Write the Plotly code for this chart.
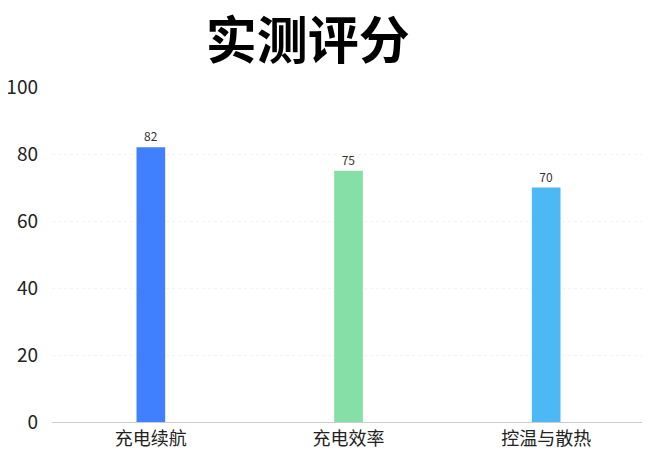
import plotly.graph_objects as go

categories = ["充电续航", "充电效率", "控温与散热"]
scores = [82, 75, 70]
bar_colors = ["#4080ff", "#86dfa6", "#4cb8f5"]

fig = go.Figure()

fig.add_trace(go.Bar(
    x=categories,
    y=scores,
    width=0.145,
    marker=dict(color=bar_colors, line=dict(width=0)),
    text=[str(s) for s in scores],
    textposition="outside",
    textfont=dict(size=12, color="#333333"),
    cliponaxis=False,
))

fig.update_layout(
    width=650, height=456,
    title=dict(text="<b>实测评分</b>", x=0.461, xanchor="center", y=0.928, yanchor="middle",
               font=dict(size=51, color="#000000", family="Noto Sans CJK SC")),
    font=dict(family="Noto Sans CJK SC", color="#222222"),
    margin=dict(l=44, r=13, t=79, b=42),
    plot_bgcolor="white",
    paper_bgcolor="white",
    showlegend=False,
    xaxis=dict(showgrid=False, showline=True, linecolor="#cccccc", linewidth=1,
               ticks="", tickfont=dict(size=18, color="#222222"), automargin=False),
    yaxis=dict(range=[0, 100], dtick=20, showgrid=True, gridcolor="#f3f3f3", griddash="dot",
               zeroline=False, showline=False, ticks="", ticklabelstandoff=13,
               tickfont=dict(size=19, color="#222222"), automargin=False),
)

fig.write_html("out.html")
